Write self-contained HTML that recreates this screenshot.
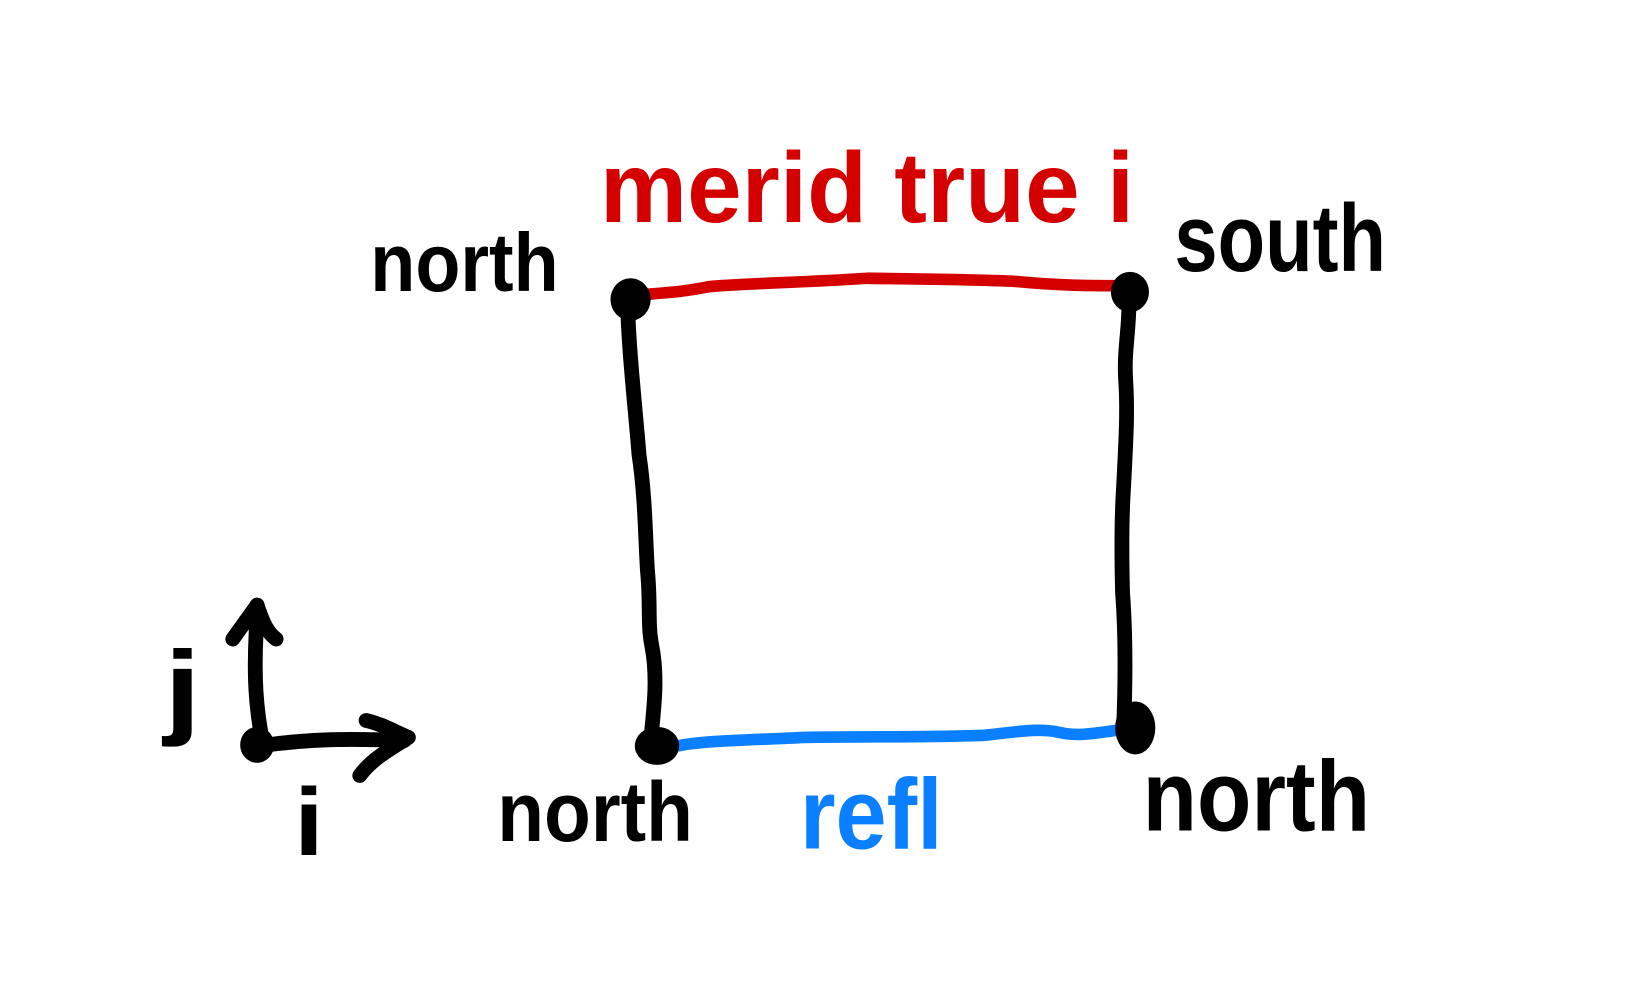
<!DOCTYPE html>
<html><head><meta charset="utf-8"><style>
html,body{margin:0;padding:0;background:#fff;}
svg{display:block}
text{font-family:"Liberation Sans",sans-serif;font-weight:bold;}
</style></head><body>
<svg width="1650" height="1000" viewBox="0 0 1650 1000">
<rect width="1650" height="1000" fill="#fff"/>
<g transform="scale(1.058)">
<g fill="none" stroke-linecap="round" stroke-linejoin="round" stroke-width="14">
 <path stroke="#000" d="M593,282 C594,330 600,380 604,430 C610,470 610,510 612,540 C615,570 612,590 616,610 C622,640 618,670 615,700"/>
 <path stroke="#000" d="M1067,280 C1068,310 1062,330 1064,360 C1066,390 1064,420 1062,460 C1060,490 1060,520 1061,560 C1064,600 1064,640 1062,688"/>
 <path stroke="#d40000" stroke-width="11" d="M600,279 C640,276 650,275 670,271 C700,268 760,267 820,263 C880,264 920,264 960,266 C1000,270 1030,270 1068,270"/>
 <path stroke="#0a7fff" stroke-width="11" d="M630,708 C650,700 700,700 760,697 C820,696 880,697 930,695 C960,692 980,688 1000,692 C1020,697 1040,692 1058,690"/>
 <g stroke="#000">
  <path d="M248,700 C242,670 240,640 242,600 L243,572"/>
  <path d="M243,572 L220,604"/>
  <path d="M243,572 C249,590 253,598 261,604"/>
  <path d="M245,705 C295,698 330,698 382,700"/>
  <path d="M346,681 C360,684 372,691 386,697 C366,710 352,717 340,733"/>
 </g>
</g>
<g fill="#000">
 <ellipse cx="596" cy="283" rx="19" ry="20"/>
 <ellipse cx="1068" cy="276" rx="18" ry="19"/>
 <ellipse cx="621" cy="705" rx="21" ry="18"/>
 <ellipse cx="1073" cy="688" rx="19" ry="25"/>
 <ellipse cx="243" cy="704" rx="16" ry="17"/>
</g>
<text x="350" y="275" font-size="78" textLength="178" lengthAdjust="spacingAndGlyphs" fill="#000">north</text>
<text x="567" y="210" font-size="95" textLength="505" lengthAdjust="spacingAndGlyphs" fill="#d40000">merid true i</text>
<text x="1110" y="256" font-size="90" textLength="200" lengthAdjust="spacingAndGlyphs" fill="#000">south</text>
<text x="470" y="795" font-size="80" textLength="185" lengthAdjust="spacingAndGlyphs" fill="#000">north</text>
<text x="756" y="802" font-size="95" textLength="135" lengthAdjust="spacingAndGlyphs" fill="#0a7fff">refl</text>
<text x="1080" y="785" font-size="95" textLength="215" lengthAdjust="spacingAndGlyphs" fill="#000">north</text>
<text x="155" y="685" font-size="100" textLength="35" lengthAdjust="spacingAndGlyphs" fill="#000">j</text>
<text x="278" y="808" font-size="90" textLength="28" lengthAdjust="spacingAndGlyphs" fill="#000">i</text>
</g>
</svg>
</body></html>
